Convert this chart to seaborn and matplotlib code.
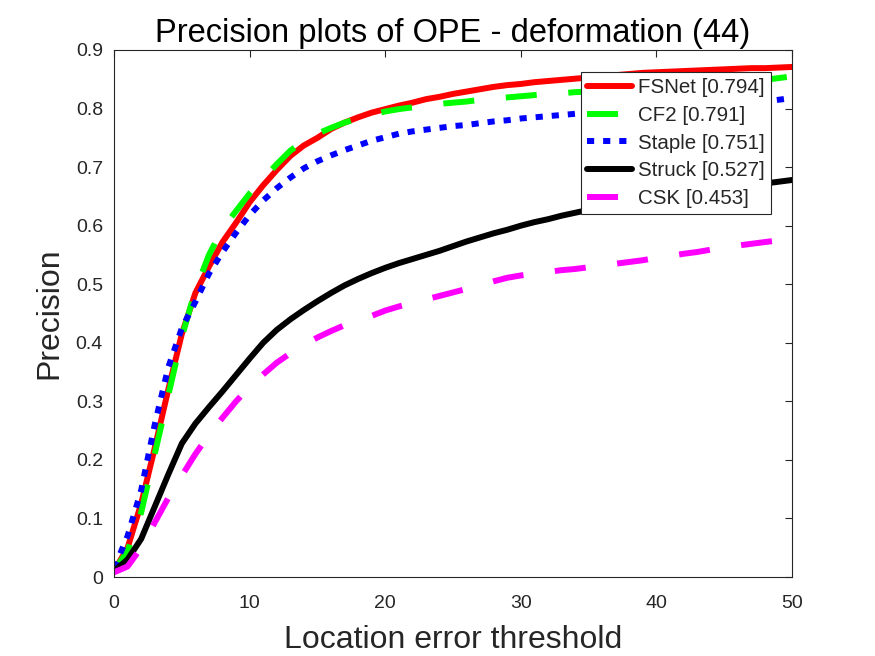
import numpy as np
import pandas as pd
import matplotlib
matplotlib.use("Agg")
import matplotlib.pyplot as plt
import seaborn as sns

thresholds = list(range(0, 51))

fsnet = [0.01, 0.05, 0.125, 0.22, 0.32, 0.415, 0.485, 0.53, 0.572, 0.605,
         0.64, 0.669, 0.695, 0.719, 0.737, 0.75, 0.765, 0.776, 0.785, 0.793,
         0.799, 0.805, 0.81, 0.816, 0.82, 0.825, 0.829, 0.833, 0.837, 0.84,
         0.842, 0.845, 0.847, 0.849, 0.851, 0.853, 0.855, 0.857, 0.859, 0.861,
         0.862, 0.863, 0.864, 0.865, 0.866, 0.867, 0.868, 0.869, 0.869, 0.87, 0.871]
cf2 = [0.01, 0.045, 0.11, 0.21, 0.31, 0.41, 0.49, 0.55, 0.595, 0.625,
       0.655, 0.68, 0.705, 0.728, 0.745, 0.757, 0.767, 0.776, 0.783, 0.79,
       0.795, 0.799, 0.802, 0.805, 0.808, 0.81, 0.812, 0.815, 0.817, 0.819,
       0.821, 0.823, 0.825, 0.826, 0.828, 0.829, 0.83, 0.832, 0.833, 0.834,
       0.835, 0.837, 0.838, 0.84, 0.841, 0.843, 0.845, 0.847, 0.849, 0.852, 0.855]
staple = [0.015, 0.07, 0.148, 0.26, 0.358, 0.425, 0.47, 0.518, 0.555, 0.588,
          0.618, 0.643, 0.664, 0.682, 0.698, 0.71, 0.72, 0.729, 0.737, 0.745,
          0.751, 0.757, 0.761, 0.764, 0.767, 0.77, 0.772, 0.775, 0.778, 0.78,
          0.783, 0.785, 0.787, 0.789, 0.791, 0.793, 0.795, 0.797, 0.799, 0.8,
          0.801, 0.802, 0.803, 0.804, 0.805, 0.806, 0.808, 0.81, 0.812, 0.815, 0.818]
struck = [0.01, 0.03, 0.065, 0.12, 0.175, 0.228, 0.262, 0.29, 0.317, 0.345,
          0.373, 0.40, 0.422, 0.44, 0.456, 0.471, 0.485, 0.498, 0.509, 0.519,
          0.528, 0.536, 0.543, 0.55, 0.557, 0.565, 0.573, 0.58, 0.587, 0.593,
          0.6, 0.606, 0.611, 0.617, 0.622, 0.627, 0.632, 0.636, 0.64, 0.644,
          0.647, 0.651, 0.654, 0.657, 0.66, 0.663, 0.666, 0.669, 0.672, 0.675, 0.678]
csk = [0.008, 0.018, 0.05, 0.093, 0.135, 0.173, 0.21, 0.243, 0.272, 0.3,
       0.325, 0.346, 0.366, 0.382, 0.396, 0.409, 0.42, 0.43, 0.438, 0.446,
       0.455, 0.462, 0.468, 0.474, 0.48, 0.486, 0.492, 0.498, 0.505, 0.511,
       0.515, 0.518, 0.521, 0.524, 0.526, 0.529, 0.532, 0.535, 0.538, 0.541,
       0.545, 0.548, 0.552, 0.555, 0.559, 0.562, 0.566, 0.569, 0.572, 0.575, 0.577]

labels = ["FSNet [0.794]", "CF2 [0.791]", "Staple [0.751]", "Struck [0.527]", "CSK [0.453]"]
series = [fsnet, cf2, staple, struck, csk]
colors = ["#ff0000", "#00ff00", "#0000ff", "#000000", "#ff00ff"]
LW = 4.3
dash_styles = [None, (5.2, 5.3), (1.2, 1.5), None, (5.2, 5.3)]

sns.set_style("white")
plt.rcParams['font.family'] = ['Liberation Sans', 'DejaVu Sans']
txt = "#262626"

fig = plt.figure(figsize=(8.75, 6.56), dpi=100)
ax = fig.add_axes([0.1303, 0.1204, 0.7749, 0.8034])

df = pd.DataFrame({"t": thresholds * len(series),
                   "p": sum(series, []),
                   "tracker": sum([[l] * len(thresholds) for l in labels], [])})

for lab, col, ds in zip(labels, colors, dash_styles):
    sub = df[df.tracker == lab]
    sns.lineplot(data=sub, x="t", y="p", ax=ax, color=col, linewidth=LW,
                 label=lab, legend=False)
    line = ax.get_lines()[-1]
    if ds is not None:
        line.set_dashes(ds)
        line.set_dash_capstyle('butt')

ax.set_xlim(0, 50)
ax.set_ylim(0, 0.9)
ax.set_xticks([0, 10, 20, 30, 40, 50])
ax.set_yticks([0, 0.1, 0.2, 0.3, 0.4, 0.5, 0.6, 0.7, 0.8, 0.9])
ax.set_yticklabels(["0", "0.1", "0.2", "0.3", "0.4", "0.5", "0.6", "0.7", "0.8", "0.9"])
ax.tick_params(direction="in", length=5, width=0.8, top=True, right=True,
               labelsize=14, colors=txt)
ax.tick_params(axis="x", pad=13)
ax.tick_params(axis="y", pad=8)
for s in ax.spines.values():
    s.set_color(txt)
    s.set_linewidth(0.8)

ax.set_title("Precision plots of OPE - deformation (44)", fontsize=23.5, color="black", pad=6)
ax.set_xlabel("Location error threshold", fontsize=23, color=txt, labelpad=9)
ax.set_ylabel("Precision", fontsize=23, color=txt, labelpad=8)

leg = ax.legend(loc="upper right", bbox_to_anchor=(0.969, 0.958), fontsize=14.8,
                frameon=True, fancybox=False, edgecolor=txt, framealpha=1,
                handlelength=2.2, borderpad=0.3, labelspacing=0.42,
                handletextpad=0.3, borderaxespad=0)
leg.get_frame().set_linewidth(0.8)

fig.savefig("out.png", dpi=100)
